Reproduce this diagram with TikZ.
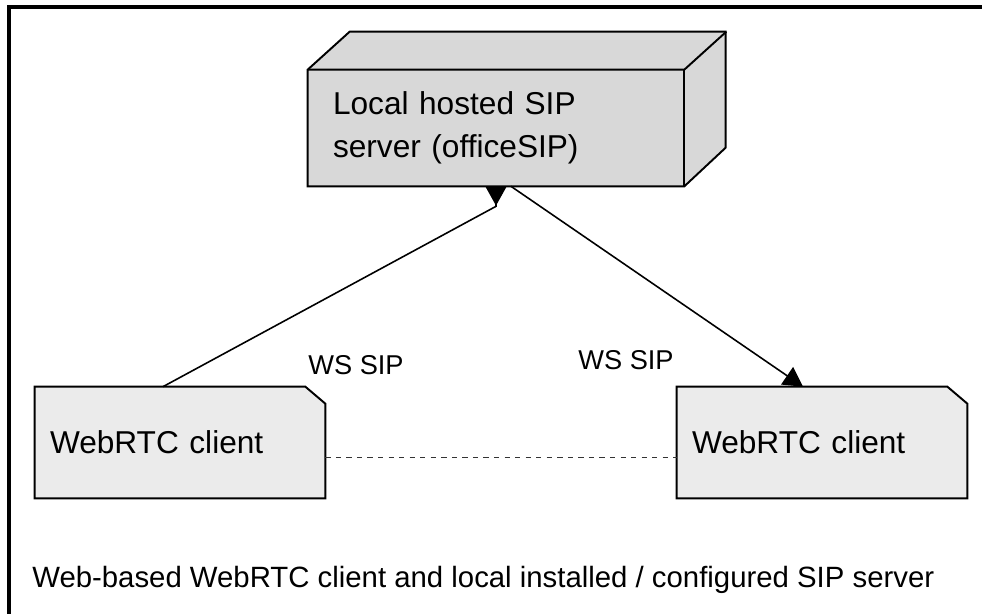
\documentclass[tikz,border=0pt]{standalone}
\usepackage{fontspec}
\setmainfont{Liberation Sans}
\usetikzlibrary{arrows.meta,backgrounds}
\begin{document}
\begin{tikzpicture}[x=0.02cm,y=-0.02cm]
            \definecolor{server_color}{RGB}{216,216,216}
            \definecolor{client_color}{RGB}{235,235,235}
            \tikzstyle{every node} = [inner sep=0pt, font=\fontsize{18}{24.5}\selectfont]
            \tikzstyle{server} = [minimum width=7.52cm, minimum height=2.32cm, text width=6.52cm, inner xsep=0.5cm, align=left]
            \tikzstyle{client} = [minimum width=5.8cm, minimum height=2.22cm, text width=5.2cm, inner xsep=0.3cm, align=left]
            \tikzstyle{outline} = [draw=black, line width=1.1pt, line join=miter]
            \tikzstyle{link} = [line width=0.9pt, black]
            \tikzstyle{ann} = [font=\fontsize{15.5}{18}\selectfont]
            \useasboundingbox (0,0) rectangle (982,614);
            \draw[line width=1.8pt] (9,620) |- (990,7);
            \node[server] (srv) at (496,128) {Local hosted SIP\\server (officeSIP)};
            \node[client] (c1) at (180,442.5) {WebRTC client};
            \node[client] (c2) at (822,442.5) {WebRTC client};
            \begin{scope}[on background layer]
                \filldraw[outline, fill=server_color] (srv.north west) -- ++(42,-38) -- ++(376,0) -- ++(0,116) -- (srv.south east) -- (srv.south west) -- cycle;
                \draw[outline] (srv.north west) -- (srv.north east) -- ++(42,-38);
                \draw[outline] (srv.north east) -- (srv.south east);
                \filldraw[outline, fill=client_color] (c1.south west) -- (c1.north west) -- ([xshift=-0.4cm]c1.north east) -- ([yshift=-0.34cm]c1.north east) -- (c1.south east) -- cycle;
                \filldraw[outline, fill=client_color] (c2.south west) -- (c2.north west) -- ([xshift=-0.4cm]c2.north east) -- ([yshift=-0.34cm]c2.north east) -- (c2.south east) -- cycle;
            \end{scope}
            \draw[link, -{Triangle[reversed, length=11pt, width=12pt]}] ([xshift=-0.34cm]c1.north) -- ([yshift=-0.4cm]srv.south) -- (srv.south);
            \draw[link, -{Triangle[length=11pt, width=12pt]}] ([xshift=0.3cm]srv.south) -- ([xshift=-0.38cm]c2.north);
            \draw[line width=0.8pt, black!80, dash pattern=on 3pt off 3pt] ([yshift=-0.3cm]c1.east) -- ([yshift=-0.3cm]c2.west);
            \node[ann] (sipA) at (356,365) {WS SIP};
            \node[ann] (sipB) at (626,360) {WS SIP};
            \node[ann, anchor=west, font=\fontsize{16.7}{20}\selectfont] (caption) at (32,580) {Web-based WebRTC client and local installed / configured SIP server};
        \end{tikzpicture}
\end{document}
